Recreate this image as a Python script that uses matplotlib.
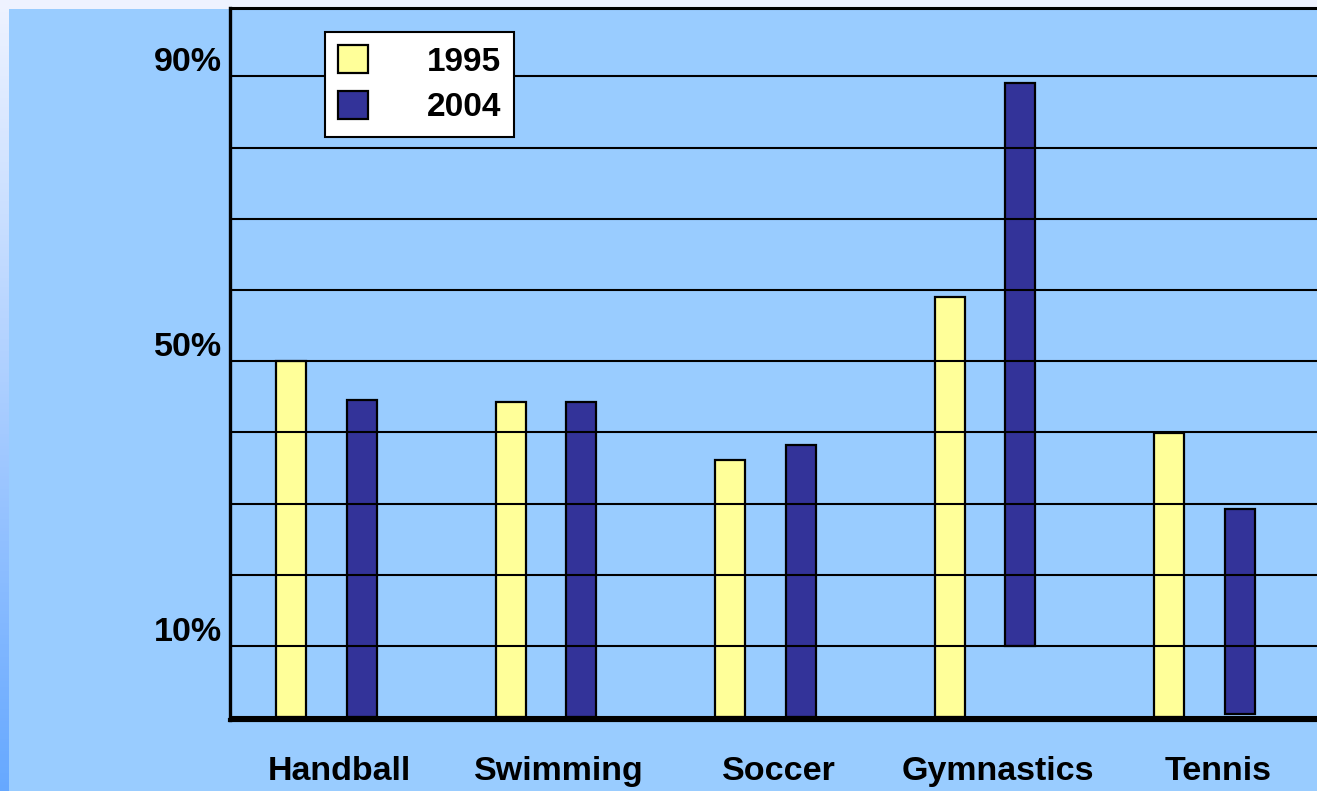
import numpy as np
import matplotlib.pyplot as plt
import matplotlib.transforms as mtransforms

plt.rcParams['font.family'] = ['Liberation Sans', 'DejaVu Sans']
plt.rcParams['font.weight'] = 'bold'

# data
sports = ['Handball', 'Swimming', 'Soccer', 'Gymnastics', 'Tennis']
top_1995 = [50, 44.2, 36.1, 59, 39.9]
top_2004 = [44.5, 44.2, 38.2, 89, 29.2]
base_1995 = [0, 0, 0, 0, 0]
base_2004 = [0, 0, 0, 10, 0.5]
ytick_vals = [10, 50, 90]
ytick_labels = ['10%', '50%', '90%']

W, H = 1317, 791
fig = plt.figure(figsize=(W / 100, H / 100), dpi=100)
fig.patch.set_facecolor('#EEF2FF')

# light blue slide background
bg = fig.add_axes([9 / W, 0, 1, 1 - 9 / H])
bg.set_facecolor('#99CCFF')
bg.set_xticks([])
bg.set_yticks([])
for s in bg.spines.values():
    s.set_visible(False)

# gradient strip on the left edge
strip = fig.add_axes([0, 0, 9 / W, 1 - 9 / H])
grad = np.linspace(0, 1, 256).reshape(-1, 1)
c_top = np.array([0.93, 0.95, 1.0])
c_bot = np.array([0.40, 0.66, 1.0])
img = c_top + (c_bot - c_top) * grad[:, :, None]
strip.imshow(img, aspect='auto', extent=[0, 1, 0, 1])
strip.axis('off')

# main chart
left = 230 / W
bottom = 1 - 720 / H
ax = fig.add_axes([left, bottom, 1097.5 / W, (720 - 8) / H])
ax.set_facecolor('none')

x = np.arange(len(sports))
w = 0.137
h95 = np.array(top_1995) - np.array(base_1995)
h04 = np.array(top_2004) - np.array(base_2004)
ax.bar(x - 0.22, h95, w, bottom=base_1995, color='#FFFF99',
       edgecolor='black', linewidth=1.6, label='1995')
ax.bar(x + 0.1, h04, w, bottom=base_2004, color='#333399',
       edgecolor='black', linewidth=1.6, label='2004')

for v in range(0, 100, 10):
    ax.axhline(v, color='black', linewidth=1.5, zorder=1.5)

ax.set_xlim(-0.5, 4.5)
ax.set_ylim(-0.4, 99.6)

ax.set_xticks(x)
ax.set_xticklabels(sports, fontsize=24.5, fontweight='bold')
ax.set_yticks(ytick_vals)
ax.set_yticklabels(ytick_labels, fontsize=24.5, fontweight='bold')
ax.tick_params(axis='both', length=0)
ax.tick_params(axis='x', pad=26)
ax.tick_params(axis='y', pad=6)
shift = mtransforms.ScaledTranslation(0, 17 / 100, fig.dpi_scale_trans)
for lab in ax.get_yticklabels():
    lab.set_transform(lab.get_transform() + shift)

ax.spines['right'].set_visible(False)
ax.spines['left'].set_linewidth(2.4)
ax.spines['top'].set_linewidth(2.2)
ax.spines['bottom'].set_linewidth(3)

leg = ax.legend(loc='upper left', bbox_to_anchor=(325 / W, 1 - 32 / H),
                bbox_transform=fig.transFigure, borderaxespad=0,
                fancybox=False, framealpha=1, edgecolor='black',
                prop={'size': 24, 'weight': 'bold'},
                handlelength=0.9, handleheight=0.9, handletextpad=1.75,
                labelspacing=0.4, borderpad=0.4)
leg.get_frame().set_linewidth(1.5)

fig.savefig('out.png', dpi=100, facecolor=fig.get_facecolor())
